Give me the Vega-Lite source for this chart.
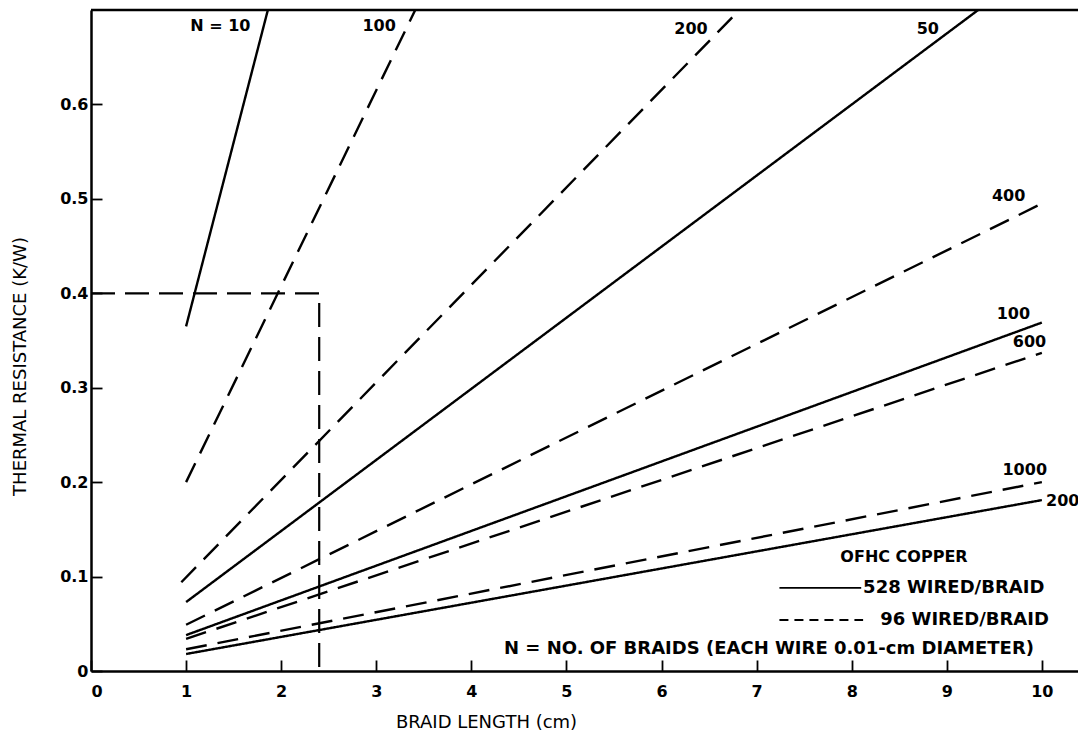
{
  "$schema": "https://vega.github.io/schema/vega-lite/v6.json",
  "width": 987,
  "height": 661,
  "autosize": {"type": "none"},
  "padding": {"left": 91, "top": 10, "right": 0, "bottom": 69},
  "background": "white",
  "config": {
    "view": {"stroke": null},
    "font": "DejaVu Sans",
    "axis": {
      "domainColor": "black",
      "domainWidth": 2.5,
      "tickColor": "black",
      "tickWidth": 1.8,
      "tickSize": -11,
      "grid": false,
      "labelColor": "black",
      "labelFont": "DejaVu Sans",
      "labelFontSize": 16,
      "labelFontWeight": "bold",
      "titleColor": "black",
      "titleFont": "DejaVu Sans",
      "titleFontSize": 18,
      "titleFontWeight": "normal"
    }
  },
  "datasets": {
    "curves": [
      {"series": "s10", "wires": "528", "x": 1, "y": 0.365},
      {"series": "s10", "wires": "528", "x": 1.86, "y": 0.7},
      {"series": "s50", "wires": "528", "x": 1, "y": 0.073},
      {"series": "s50", "wires": "528", "x": 9.33, "y": 0.7},
      {"series": "s100", "wires": "528", "x": 1, "y": 0.038},
      {"series": "s100", "wires": "528", "x": 10, "y": 0.369},
      {"series": "s200", "wires": "528", "x": 1, "y": 0.018},
      {"series": "s200", "wires": "528", "x": 10, "y": 0.181},
      {"series": "d100", "wires": "96", "x": 1, "y": 0.2},
      {"series": "d100", "wires": "96", "x": 3.41, "y": 0.7},
      {"series": "d200", "wires": "96", "x": 0.95, "y": 0.094},
      {"series": "d200", "wires": "96", "x": 6.82, "y": 0.7},
      {"series": "d400", "wires": "96", "x": 1, "y": 0.049},
      {"series": "d400", "wires": "96", "x": 10, "y": 0.495},
      {"series": "d600", "wires": "96", "x": 1, "y": 0.034},
      {"series": "d600", "wires": "96", "x": 10, "y": 0.337},
      {"series": "d1000", "wires": "96", "x": 1, "y": 0.023},
      {"series": "d1000", "wires": "96", "x": 10, "y": 0.2}
    ],
    "guide": [
      {"x": 0, "y": 0.4},
      {"x": 2.4, "y": 0.4},
      {"x": 2.4, "y": 0}
    ],
    "frame": [
      {"x": 0, "x2": 10.38, "y": 0.7}
    ],
    "curveLabels": [
      {"x": 1.36, "y": 0.683, "text": "N = 10"},
      {"x": 3.03, "y": 0.683, "text": "100"},
      {"x": 6.31, "y": 0.68, "text": "200"},
      {"x": 8.8, "y": 0.68, "text": "50"},
      {"x": 9.65, "y": 0.503, "text": "400"},
      {"x": 9.7, "y": 0.378, "text": "100"},
      {"x": 9.87, "y": 0.348, "text": "600"},
      {"x": 9.82, "y": 0.213, "text": "1000"},
      {"x": 10.22, "y": 0.18, "text": "200"}
    ],
    "legendLines": [
      {"wires": "528", "x": 7.24, "x2": 8.1, "y": 0.088},
      {"wires": "96", "x": 7.24, "x2": 8.12, "y": 0.054}
    ],
    "legendTitle": [
      {"x": 8.55, "y": 0.121, "text": "OFHC COPPER"}
    ],
    "legendNote": [
      {"x": 7.13, "y": 0.023, "text": "N = NO. OF BRAIDS (EACH WIRE 0.01-cm DIAMETER)"}
    ],
    "legendLeft": [
      {"x": 8.12, "y": 0.088, "text": "528 WIRED/BRAID"},
      {"x": 8.3, "y": 0.054, "text": "96 WIRED/BRAID"}
    ]
  },
  "layer": [
    {
      "data": {"name": "curves"},
      "mark": {"type": "line", "color": "black", "strokeWidth": 2.4, "clip": true},
      "encoding": {
        "x": {
          "field": "x", "type": "quantitative",
          "scale": {"domain": [0, 10.38], "nice": false, "zero": false},
          "axis": {"values": [0,1,2,3,4,5,6,7,8,9,10], "format": "d", "labelPadding": 23, "title": "BRAID LENGTH (cm)", "titlePadding": 14, "titleX": 395}
        },
        "y": {
          "field": "y", "type": "quantitative",
          "scale": {"domain": [0, 0.7], "nice": false},
          "axis": {"values": [0, 0.1, 0.2, 0.3, 0.4, 0.5, 0.6], "format": ".1~f", "labelPadding": 14, "title": "THERMAL RESISTANCE (K/W)", "titleX": -62, "titleY": 356}
        },
        "detail": {"field": "series"},
        "strokeDash": {
          "field": "wires", "type": "nominal",
          "scale": {"domain": ["528", "96"], "range": [[1, 0], [21, 11]]},
          "legend": null
        }
      }
    },
    {
      "data": {"name": "guide"},
      "mark": {"type": "line", "color": "black", "strokeWidth": 2.2, "strokeDash": [24, 10]},
      "encoding": {
        "x": {"field": "x", "type": "quantitative"},
        "y": {"field": "y", "type": "quantitative"},
        "order": {"field": "y", "sort": "descending"}
      }
    },
    {
      "data": {"name": "frame"},
      "mark": {"type": "rule", "color": "black", "strokeWidth": 2.5},
      "encoding": {
        "x": {"field": "x", "type": "quantitative"},
        "x2": {"field": "x2"},
        "y": {"field": "y", "type": "quantitative"}
      }
    },
    {
      "data": {"name": "curveLabels"},
      "mark": {"type": "text", "font": "DejaVu Sans", "fontSize": 16, "fontWeight": "bold", "color": "black", "align": "center", "baseline": "middle"},
      "encoding": {
        "x": {"field": "x", "type": "quantitative"},
        "y": {"field": "y", "type": "quantitative"},
        "text": {"field": "text"}
      }
    },
    {
      "data": {"name": "legendLines"},
      "mark": {"type": "rule", "color": "black", "strokeWidth": 1.8},
      "encoding": {
        "x": {"field": "x", "type": "quantitative"},
        "x2": {"field": "x2"},
        "y": {"field": "y", "type": "quantitative"},
        "strokeDash": {
          "field": "wires", "type": "nominal",
          "scale": {"domain": ["528", "96"], "range": [[1, 0], [9, 6]]},
          "legend": null
        }
      }
    },
    {
      "data": {"name": "legendTitle"},
      "mark": {"type": "text", "font": "DejaVu Sans", "fontSize": 16, "fontWeight": "bold", "color": "black", "align": "center", "baseline": "middle"},
      "encoding": {
        "x": {"field": "x", "type": "quantitative"},
        "y": {"field": "y", "type": "quantitative"},
        "text": {"field": "text"}
      }
    },
    {
      "data": {"name": "legendNote"},
      "mark": {"type": "text", "font": "DejaVu Sans", "fontSize": 18, "fontWeight": "bold", "color": "black", "align": "center", "baseline": "middle"},
      "encoding": {
        "x": {"field": "x", "type": "quantitative"},
        "y": {"field": "y", "type": "quantitative"},
        "text": {"field": "text"}
      }
    },
    {
      "data": {"name": "legendLeft"},
      "mark": {"type": "text", "font": "DejaVu Sans", "fontSize": 18, "fontWeight": "bold", "color": "black", "align": "left", "baseline": "middle"},
      "encoding": {
        "x": {"field": "x", "type": "quantitative"},
        "y": {"field": "y", "type": "quantitative"},
        "text": {"field": "text"}
      }
    }
  ],
  "resolve": {"scale": {"strokeDash": "independent"}}
}
